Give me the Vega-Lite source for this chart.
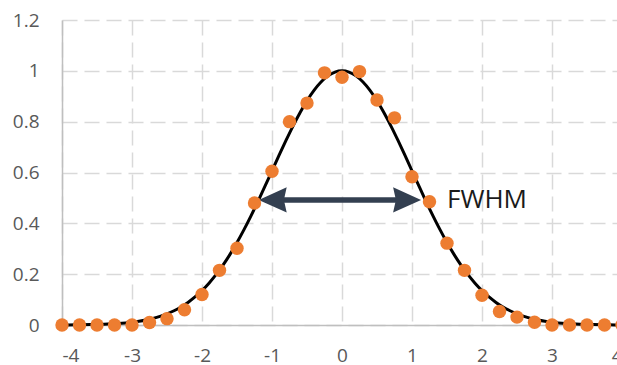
{
  "$schema": "https://vega.github.io/schema/vega-lite/v6.json",
  "autosize": "none",
  "padding": {"left": 62, "top": 20, "right": 0, "bottom": 40},
  "width": 560,
  "height": 305,
  "background": "white",
  "config": {
    "view": {"stroke": null},
    "axis": {
      "labelFont": "Open Sans",
      "labelFontSize": 19,
      "labelColor": "#595959",
      "gridColor": "#d9d9d9",
      "gridWidth": 1.5,
      "gridDash": [15, 7],
      "domainColor": "#bfbfbf",
      "domainWidth": 1.5,
      "ticks": false,
      "tickSize": 0,
      "title": null
    }
  },
  "datasets": {
    "curve": [
      {"x": -4.0, "y": 0.0003}, {"x": -3.8, "y": 0.0007}, {"x": -3.6, "y": 0.0015}, {"x": -3.4, "y": 0.0031}, {"x": -3.2, "y": 0.006},
      {"x": -3.0, "y": 0.0111}, {"x": -2.9, "y": 0.0149}, {"x": -2.8, "y": 0.0198}, {"x": -2.7, "y": 0.0261}, {"x": -2.6, "y": 0.034},
      {"x": -2.5, "y": 0.0439}, {"x": -2.4, "y": 0.0561}, {"x": -2.3, "y": 0.071}, {"x": -2.2, "y": 0.0889}, {"x": -2.1, "y": 0.1103},
      {"x": -2.0, "y": 0.1353}, {"x": -1.9, "y": 0.1645}, {"x": -1.8, "y": 0.1979}, {"x": -1.7, "y": 0.2357}, {"x": -1.6, "y": 0.278},
      {"x": -1.5, "y": 0.3247}, {"x": -1.4, "y": 0.3753}, {"x": -1.3, "y": 0.4296}, {"x": -1.2, "y": 0.4868}, {"x": -1.1, "y": 0.5461},
      {"x": -1.0, "y": 0.6065}, {"x": -0.9, "y": 0.667}, {"x": -0.8, "y": 0.7261}, {"x": -0.7, "y": 0.7827}, {"x": -0.6, "y": 0.8353},
      {"x": -0.5, "y": 0.8825}, {"x": -0.4, "y": 0.9231}, {"x": -0.3, "y": 0.956}, {"x": -0.2, "y": 0.9802}, {"x": -0.1, "y": 0.995},
      {"x": 0.0, "y": 1.0},
      {"x": 0.1, "y": 0.995}, {"x": 0.2, "y": 0.9802}, {"x": 0.3, "y": 0.956}, {"x": 0.4, "y": 0.9231}, {"x": 0.5, "y": 0.8825},
      {"x": 0.6, "y": 0.8353}, {"x": 0.7, "y": 0.7827}, {"x": 0.8, "y": 0.7261}, {"x": 0.9, "y": 0.667}, {"x": 1.0, "y": 0.6065},
      {"x": 1.1, "y": 0.5461}, {"x": 1.2, "y": 0.4868}, {"x": 1.3, "y": 0.4296}, {"x": 1.4, "y": 0.3753}, {"x": 1.5, "y": 0.3247},
      {"x": 1.6, "y": 0.278}, {"x": 1.7, "y": 0.2357}, {"x": 1.8, "y": 0.1979}, {"x": 1.9, "y": 0.1645}, {"x": 2.0, "y": 0.1353},
      {"x": 2.1, "y": 0.1103}, {"x": 2.2, "y": 0.0889}, {"x": 2.3, "y": 0.071}, {"x": 2.4, "y": 0.0561}, {"x": 2.5, "y": 0.0439},
      {"x": 2.6, "y": 0.034}, {"x": 2.7, "y": 0.0261}, {"x": 2.8, "y": 0.0198}, {"x": 2.9, "y": 0.0149}, {"x": 3.0, "y": 0.0111},
      {"x": 3.2, "y": 0.006}, {"x": 3.4, "y": 0.0031}, {"x": 3.6, "y": 0.0015}, {"x": 3.8, "y": 0.0007}, {"x": 4.0, "y": 0.0003}
    ],
    "pts": [
      {"x": -4, "y": 0}, {"x": -3.75, "y": 0}, {"x": -3.5, "y": 0}, {"x": -3.25, "y": 0}, {"x": -3, "y": 0},
      {"x": -2.75, "y": 0.01}, {"x": -2.5, "y": 0.025}, {"x": -2.25, "y": 0.06}, {"x": -2, "y": 0.12}, {"x": -1.75, "y": 0.215},
      {"x": -1.5, "y": 0.302}, {"x": -1.25, "y": 0.48}, {"x": -1, "y": 0.605}, {"x": -0.75, "y": 0.8}, {"x": -0.5, "y": 0.873},
      {"x": -0.25, "y": 0.992}, {"x": 0, "y": 0.975}, {"x": 0.25, "y": 0.997}, {"x": 0.5, "y": 0.885}, {"x": 0.75, "y": 0.815},
      {"x": 1, "y": 0.583}, {"x": 1.25, "y": 0.485}, {"x": 1.5, "y": 0.322}, {"x": 1.75, "y": 0.215}, {"x": 2, "y": 0.117},
      {"x": 2.25, "y": 0.053}, {"x": 2.5, "y": 0.031}, {"x": 2.75, "y": 0.011}, {"x": 3, "y": 0}, {"x": 3.25, "y": 0},
      {"x": 3.5, "y": 0}, {"x": 3.75, "y": 0}, {"x": 4, "y": 0}
    ],
    "shaft": [{"x": -1.1, "x2": 1.03, "y": 0.492}],
    "heads": [
      {"x": -1.19, "y": 0.492, "dir": "left"},
      {"x": 1.13, "y": 0.492, "dir": "right"}
    ],
    "label": [{"x": 1.5, "y": 0.492, "text": "FWHM"}]
  },
  "layer": [
    {
      "data": {"name": "curve"},
      "mark": {"type": "line", "color": "black", "strokeWidth": 3, "interpolate": "monotone"},
      "encoding": {
        "x": {
          "field": "x", "type": "quantitative",
          "scale": {"domain": [-4, 4], "nice": false, "zero": false},
          "axis": {
            "values": [-4, -3, -2, -1, 0, 1, 2, 3, 4],
            "labelPadding": 21,
            "labelExpr": "datum.value < 0 ? '-' + abs(datum.value) : '' + datum.value",
            "gridDash": [15, 7]
          }
        },
        "y": {
          "field": "y", "type": "quantitative",
          "scale": {"domain": [0, 1.2], "nice": false},
          "axis": {
            "values": [0, 0.2, 0.4, 0.6, 0.8, 1, 1.2],
            "format": "~g",
            "labelPadding": 23
          }
        }
      }
    },
    {
      "data": {"name": "shaft"},
      "mark": {"type": "rule", "color": "#333f50", "strokeWidth": 5.5},
      "encoding": {
        "x": {"field": "x", "type": "quantitative"},
        "x2": {"field": "x2"},
        "y": {"field": "y", "type": "quantitative"}
      }
    },
    {
      "data": {"name": "heads"},
      "mark": {"type": "point", "filled": true, "opacity": 1, "color": "#333f50", "size": 784, "strokeWidth": 0},
      "encoding": {
        "x": {"field": "x", "type": "quantitative"},
        "y": {"field": "y", "type": "quantitative"},
        "shape": {
          "field": "dir", "type": "nominal",
          "scale": {"domain": ["left", "right"], "range": ["M0,0L2,-0.9L1.8,0L2,0.9Z", "M0,0L-2,-0.9L-1.8,0L-2,0.9Z"]},
          "legend": null
        }
      }
    },
    {
      "data": {"name": "pts"},
      "mark": {"type": "circle", "color": "#ed7d31", "opacity": 1, "size": 180},
      "encoding": {
        "x": {"field": "x", "type": "quantitative"},
        "y": {"field": "y", "type": "quantitative"}
      }
    },
    {
      "data": {"name": "label"},
      "mark": {"type": "text", "font": "Open Sans", "fontSize": 26, "color": "#1a1a1a", "align": "left", "baseline": "middle"},
      "encoding": {
        "x": {"field": "x", "type": "quantitative"},
        "y": {"field": "y", "type": "quantitative"},
        "text": {"field": "text"}
      }
    }
  ]
}
